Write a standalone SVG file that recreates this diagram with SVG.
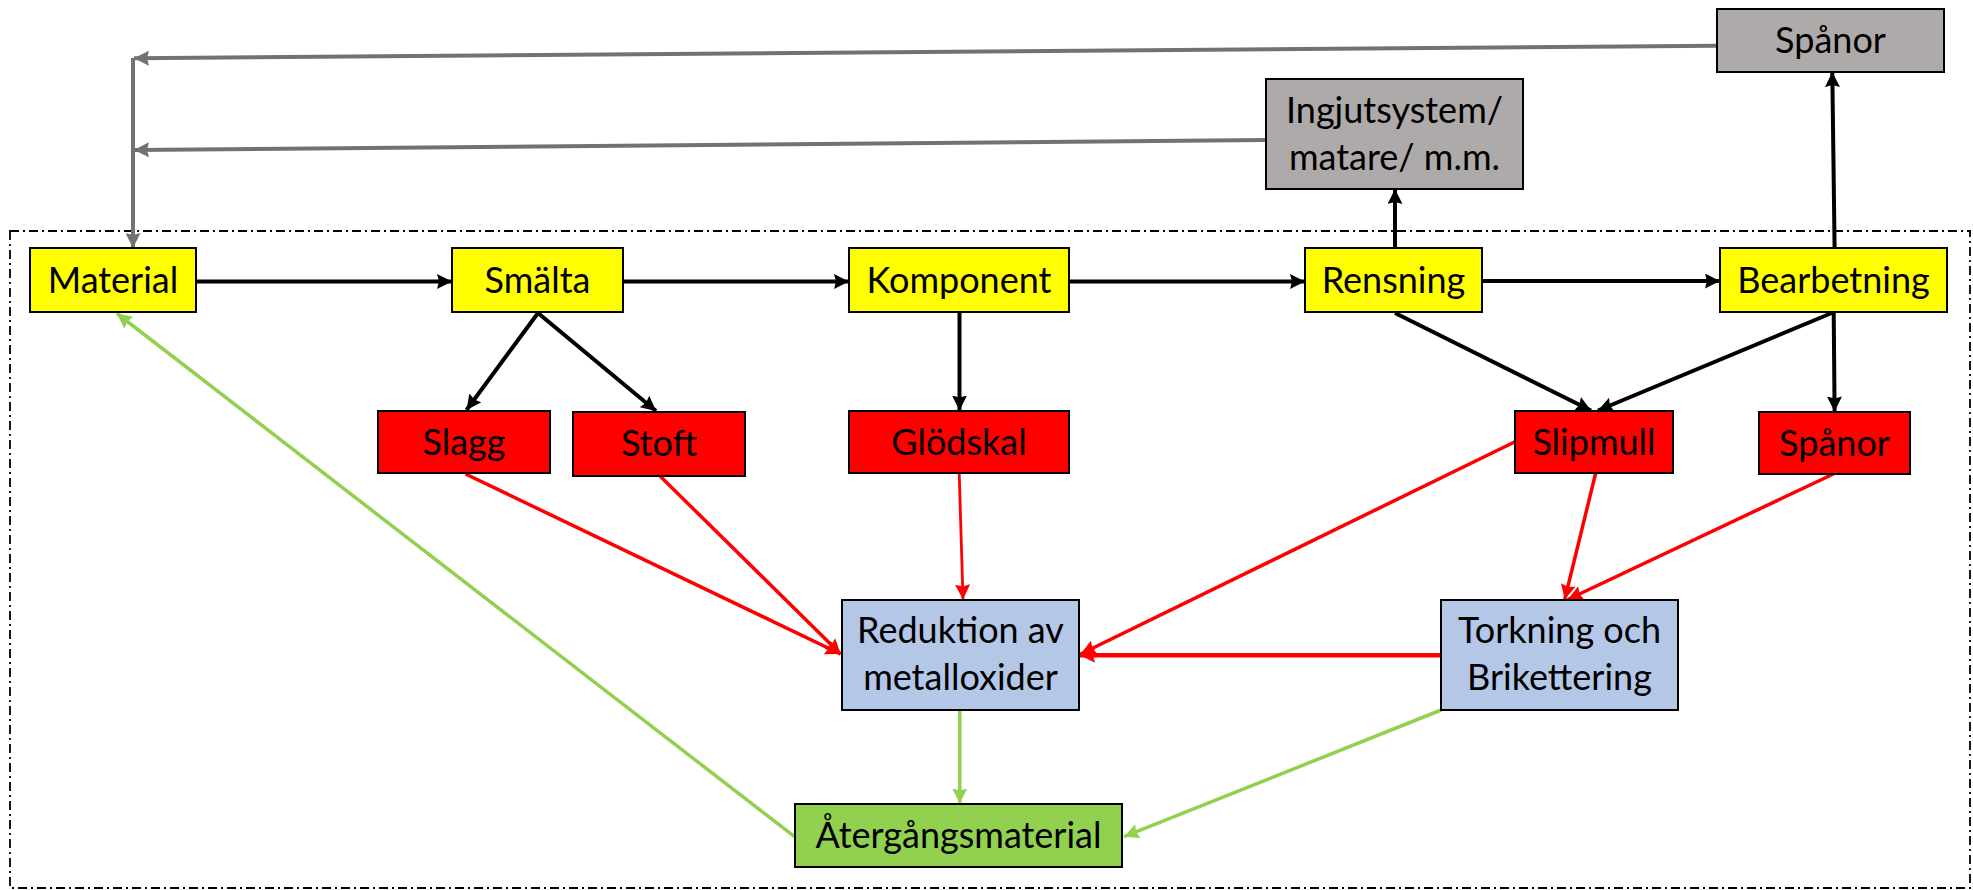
<svg xmlns="http://www.w3.org/2000/svg" width="1973" height="890" viewBox="0 0 1973 890">
<style>
  .box{stroke:#000;stroke-width:2}
  .yel{fill:#FFFF00}
  .red{fill:#FF0000}
  .gry{fill:#AEAAAA}
  .blu{fill:#B4C7E7}
  .grn{fill:#92D050}
  text{font-family:Lato,"Liberation Sans",sans-serif;font-size:36px;fill:#000;text-anchor:middle}
  .k{stroke:#000;stroke-width:4;fill:none;marker-end:url(#ak)}
  .g{stroke:#767171;stroke-width:4;fill:none}
  .ga{marker-end:url(#ag)}
  .r{stroke:#FF0000;stroke-width:3.5;fill:none;marker-end:url(#ar)}
  .gr{stroke:#92D050;stroke-width:3.5;fill:none;marker-end:url(#agr)}
</style>
<defs>
  <marker id="ak" markerUnits="userSpaceOnUse" markerWidth="15" markerHeight="15" refX="15" refY="7.5" orient="auto"><path d="M0,0 L15,7.5 L0,15 L2,7.5 z" fill="#000"/></marker>
  <marker id="ag" markerUnits="userSpaceOnUse" markerWidth="15" markerHeight="15" refX="15" refY="7.5" orient="auto"><path d="M0,0 L15,7.5 L0,15 L2,7.5 z" fill="#767171"/></marker>
  <marker id="ar" markerUnits="userSpaceOnUse" markerWidth="15" markerHeight="15" refX="15" refY="7.5" orient="auto"><path d="M0,0 L15,7.5 L0,15 L2,7.5 z" fill="#FF0000"/></marker>
  <marker id="agr" markerUnits="userSpaceOnUse" markerWidth="15" markerHeight="15" refX="15" refY="7.5" orient="auto"><path d="M0,0 L15,7.5 L0,15 L2,7.5 z" fill="#92D050"/></marker>
</defs>
<rect x="0" y="0" width="1973" height="890" fill="#fff"/>
<rect id="system-boundary" x="10" y="231" width="1960" height="657" fill="none" stroke="#000" stroke-width="1.8" stroke-dasharray="9 4 2 4"/>

<g id="connectors">
  <line class="g ga" x1="1717" y1="45.7" x2="134" y2="58.3"/>
  <line class="g ga" x1="133" y1="58" x2="133" y2="248"/>
  <line class="g ga" x1="1266" y1="140" x2="134" y2="150"/>
  <line class="k" x1="196" y1="281.5" x2="452" y2="281.5"/>
  <line class="k" x1="623" y1="281.5" x2="849" y2="281.5"/>
  <line class="k" x1="1069" y1="281.5" x2="1305" y2="281.5"/>
  <line class="k" x1="1482" y1="281" x2="1720" y2="281"/>
  <line class="k" x1="1395" y1="248" x2="1395" y2="189"/>
  <line class="k" x1="1834.6" y1="248" x2="1832.3" y2="72"/>
  <line class="k" x1="538" y1="313" x2="466.5" y2="410"/>
  <line class="k" x1="538" y1="313" x2="656" y2="411"/>
  <line class="k" x1="959.5" y1="313" x2="959.5" y2="410.5"/>
  <line class="k" x1="1395" y1="313" x2="1591" y2="410.5"/>
  <line class="k" x1="1831.8" y1="313" x2="1598" y2="410.5"/>
  <line class="k" x1="1833.7" y1="313" x2="1834.6" y2="411.5"/>
  <line class="r" x1="465.6" y1="474" x2="840.6" y2="654"/>
  <line class="r" x1="660" y1="476" x2="840.6" y2="654"/>
  <line class="r" x1="959.2" y1="473" x2="963" y2="599.5" style="stroke-width:2.8"/>
  <line class="r" x1="1515" y1="441.7" x2="1080.7" y2="654"/>
  <line class="r" x1="1595.7" y1="473" x2="1564.7" y2="599.5"/>
  <line class="r" x1="1833.4" y1="474" x2="1567.8" y2="599.5"/>
  <line class="r" x1="1441" y1="655.3" x2="1080" y2="655.3" style="stroke-width:4.5"/>
  <line class="gr" x1="959.8" y1="710" x2="959.8" y2="803.5"/>
  <line class="gr" x1="1441.2" y1="710" x2="1124" y2="836.7"/>
  <line class="gr" x1="794.6" y1="836.7" x2="117" y2="313.5"/>
</g>

<g id="material"><rect class="box yel" x="30" y="248" width="166" height="64"/><text x="113" y="293">Material</text></g>
<g id="smalta"><rect class="box yel" x="452" y="248" width="171" height="64"/><text x="537.5" y="293">Smälta</text></g>
<g id="komponent"><rect class="box yel" x="849" y="248" width="220" height="64"/><text x="959" y="293">Komponent</text></g>
<g id="rensning"><rect class="box yel" x="1305" y="248" width="177" height="64"/><text x="1393.5" y="293">Rensning</text></g>
<g id="bearbetning"><rect class="box yel" x="1720" y="248" width="227" height="64"/><text x="1833.5" y="293">Bearbetning</text></g>

<g id="slagg"><rect class="box red" x="378" y="411" width="172" height="62"/><text x="464" y="455">Slagg</text></g>
<g id="stoft"><rect class="box red" x="573" y="412" width="172" height="64"/><text x="659" y="456">Stoft</text></g>
<g id="glodskal"><rect class="box red" x="849" y="411" width="220" height="62"/><text x="959" y="455">Glödskal</text></g>
<g id="slipmull"><rect class="box red" x="1515" y="411" width="158" height="62"/><text x="1594" y="455">Slipmull</text></g>
<g id="spanor-red"><rect class="box red" x="1759" y="412" width="151" height="62"/><text x="1834.5" y="456">Spånor</text></g>

<g id="spanor-top"><rect class="box gry" x="1717" y="9" width="227" height="63"/><text x="1830.5" y="53">Spånor</text></g>
<g id="ingjutsystem"><rect class="box gry" x="1266" y="79" width="257" height="110"/><text x="1394.5" y="123">Ingjutsystem/</text><text x="1394.5" y="170">matare/ m.m.</text></g>

<g id="reduktion"><rect class="box blu" x="842" y="600" width="237" height="110"/><text x="960.5" y="643">Reduktion av</text><text x="960.5" y="690">metalloxider</text></g>
<g id="torkning"><rect class="box blu" x="1441" y="600" width="237" height="110"/><text x="1559.5" y="643">Torkning och</text><text x="1559.5" y="690">Brikettering</text></g>

<g id="atergangsmaterial"><rect class="box grn" x="795" y="804" width="327" height="63"/><text x="958.5" y="848">Återgångsmaterial</text></g>
</svg>
